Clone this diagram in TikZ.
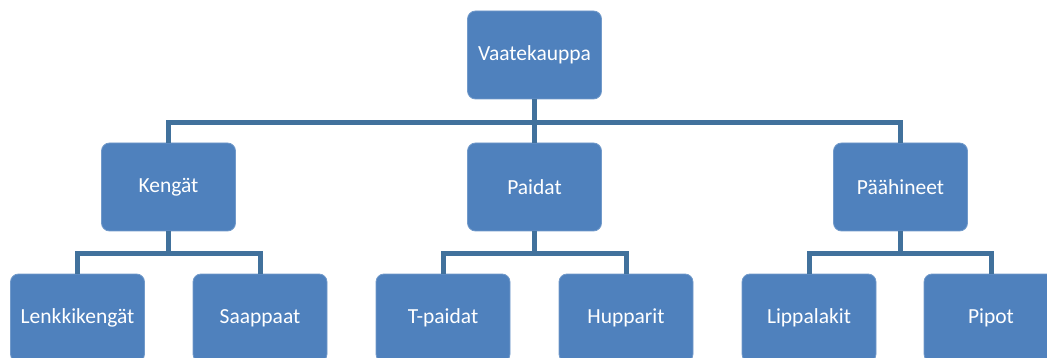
\documentclass[tikz,border=0pt]{standalone}
\usepackage{fontspec}
\setmainfont{Carlito}
\definecolor{boxblue}{HTML}{4F81BD}
\definecolor{lineblue}{HTML}{41719C}
\begin{document}
\begin{tikzpicture}[x=1pt,y=-1pt,
  cat/.style={fill=boxblue, draw=boxblue!80!white, line width=0.8pt, rounded corners=8pt,
    minimum width=134pt, minimum height=88pt, inner sep=0pt,
    text=white, font=\fontsize{21.5}{24}\selectfont},
  conn/.style={draw=lineblue, line width=5pt}]
\useasboundingbox (0,0) rectangle (1047,358);
\clip (0,0) rectangle (1047,358);
\node[cat] (top) at (534.5,55) {Vaatekauppa};
\node[cat] (k) at (168.5,187) {Kengät};
\node[cat] (p) at (534.5,187) {Paidat};
\node[cat] (h) at (900.5,187) {Päähineet};
\node[cat] (k1) at (77.5,318) {Lenkkikengät};
\node[cat] (k2) at (260,318) {Saappaat};
\node[cat] (p1) at (443,318) {T-paidat};
\node[cat] (p2) at (626,318) {Hupparit};
\node[cat] (h1) at (809,318) {Lippalakit};
\node[cat] (h2) at (991,318) {Pipot};
\draw[conn] (top.south) -- ++(0,23) -| (k.north);
\draw[conn] (top.south) -- ++(0,23) -| (h.north);
\draw[conn] (top.south) -- (p.north);
\draw[conn] (k.south) -- ++(0,22) -| (k1.north);
\draw[conn] (k.south) -- ++(0,22) -| (k2.north);
\draw[conn] (p.south) -- ++(0,22) -| (p1.north);
\draw[conn] (p.south) -- ++(0,22) -| (p2.north);
\draw[conn] (h.south) -- ++(0,22) -| (h1.north);
\draw[conn] (h.south) -- ++(0,22) -| (h2.north);
\end{tikzpicture}
\end{document}
